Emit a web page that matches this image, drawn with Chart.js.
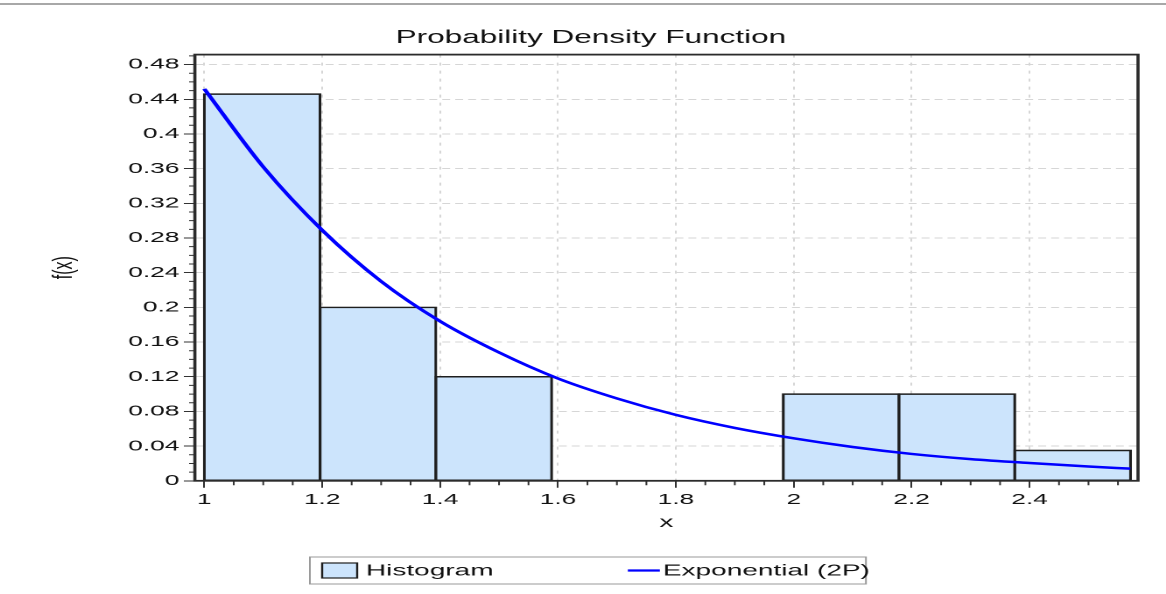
<!DOCTYPE html>
<html>
<head>
<meta charset="utf-8">
<title>Probability Density Function</title>
<script src="https://cdn.jsdelivr.net/npm/chart.js@4.4.1/dist/chart.umd.min.js"></script>
<style>
  html, body { margin: 0; padding: 0; background: #fff; overflow: hidden; }
</style>
</head>
<body>
<!-- the source picture is stretched sideways, so the canvas is drawn narrow and shown wide -->
<canvas id="pdfchart" width="666" height="594" style="width:1166px;height:594px"></canvas>
<script>
'use strict';

// histogram bins: edges along x and the density of each bin
var binEdges = [1.0, 1.1964, 1.3929, 1.5893, 1.7857, 1.9821, 2.1786, 2.375, 2.5714];
var binHeights = [0.446, 0.2, 0.12, 0, 0, 0.1, 0.1, 0.035];

// exponential (2P) curve at these x values
var curveX = [1.0, 1.1, 1.2, 1.3, 1.4, 1.5, 1.6, 1.7, 1.8, 1.9, 2.0, 2.1, 2.2, 2.3, 2.4, 2.5, 2.571];
var curveY = [0.452, 0.362, 0.289, 0.230, 0.184, 0.148, 0.118, 0.095, 0.076, 0.061, 0.049, 0.039, 0.031, 0.025, 0.0205, 0.0165, 0.014];

// tick labels
var xTicks = [1, 1.2, 1.4, 1.6, 1.8, 2, 2.2, 2.4];
var yTicks = [0, 0.04, 0.08, 0.12, 0.16, 0.2, 0.24, 0.28, 0.32, 0.36, 0.4, 0.44, 0.48];

var seriesNames = ['Histogram', 'Exponential (2P)'];

// build the point lists chart.js wants
var histPoints = [];
for (var i = 0; i < binHeights.length; i++) {
  histPoints.push({ x: (binEdges[i] + binEdges[i + 1]) / 2, y: binHeights[i] });
}
var curvePoints = [];
for (var j = 0; j < curveX.length; j++) {
  curvePoints.push({ x: curveX[j], y: curveY[j] });
}

var fontFamily = "'Liberation Sans', Arial, sans-serif";
var textColor = '#111111';
Chart.defaults.font.family = fontFamily;
Chart.defaults.color = textColor;

// frame round the plot, the small minor ticks, the boxed legend
var chartExtras = {
  id: 'chartExtras',
  beforeDraw: function(chart) {
    var ctx = chart.ctx;
    ctx.save();
    ctx.fillStyle = '#ffffff';
    ctx.fillRect(0, 0, chart.width, chart.height);
    ctx.fillStyle = '#a8a8a8';
    ctx.fillRect(0, 3, chart.width, 2);
    ctx.restore();
  },
  afterDatasetsDraw: function(chart) {
    var ctx = chart.ctx;
    var area = chart.chartArea;
    var xs = chart.scales.x;
    var ys = chart.scales.y;
    ctx.save();
    ctx.strokeStyle = '#333333';
    ctx.lineWidth = 1;
    ctx.beginPath();
    // minor ticks on y every 0.01
    for (var k = 1; k * 0.01 < ys.max; k++) {
      if (k % 4 === 0) continue;
      var py = ys.getPixelForValue(k * 0.01);
      ctx.moveTo(area.left - 3.3, py);
      ctx.lineTo(area.left, py);
    }
    ctx.stroke();
    ctx.beginPath();
    // minor ticks on x every 0.05
    for (var m = 1; 1 + m * 0.05 < xs.max; m++) {
      if (m % 4 === 0) continue;
      var px = xs.getPixelForValue(1 + m * 0.05);
      ctx.moveTo(px, area.bottom);
      ctx.lineTo(px, area.bottom + 4.5);
    }
    ctx.stroke();
    // plot frame
    ctx.strokeStyle = '#2b2b2b';
    ctx.lineWidth = 1.8;
    ctx.strokeRect(area.left, area.top, area.right - area.left, area.bottom - area.top);
    ctx.restore();
  },
  afterDraw: function(chart) {
    var ctx = chart.ctx;
    var sets = chart.data.datasets;
    var bx = chart.width / 2 - 156;
    var by = 557;
    ctx.save();
    ctx.strokeStyle = '#9a9a9a';
    ctx.lineWidth = 1;
    ctx.strokeRect(bx, by, 317.6, 27);
    // histogram swatch
    ctx.fillStyle = sets[0].backgroundColor;
    ctx.fillRect(bx + 7, by + 6, 20, 15);
    ctx.strokeStyle = '#1e1e1e';
    ctx.lineWidth = 1.2;
    ctx.strokeRect(bx + 7, by + 6, 20, 15);
    ctx.fillStyle = textColor;
    ctx.font = '16px ' + fontFamily;
    ctx.textBaseline = 'middle';
    ctx.fillText(sets[0].label, bx + 32, by + 14);
    // curve swatch
    ctx.strokeStyle = sets[1].borderColor;
    ctx.lineWidth = 2.2;
    ctx.beginPath();
    ctx.moveTo(bx + 181.6, by + 13.5);
    ctx.lineTo(bx + 199.9, by + 13.5);
    ctx.stroke();
    ctx.fillText(sets[1].label, bx + 201.6, by + 14);
    ctx.restore();
  }
};

var ctx = document.getElementById('pdfchart').getContext('2d');
var chart = new Chart(ctx, {
  type: 'bar',
  data: {
    datasets: [{
      type: 'bar',
      label: seriesNames[0],
      data: histPoints,
      backgroundColor: '#cce4fc',
      borderColor: '#1e1e1e',
      borderWidth: 1.6,
      borderSkipped: false,
      inflateAmount: 0.8,
      barPercentage: 1,
      categoryPercentage: 1,
      order: 1
    }, {
      type: 'line',
      label: seriesNames[1],
      data: curvePoints,
      borderColor: '#0000ff',
      borderWidth: 2.5,
      pointRadius: 0,
      fill: false,
      cubicInterpolationMode: 'monotone',
      order: 0
    }]
  },
  options: {
    responsive: false,
    devicePixelRatio: 2,
    animation: false,
    layout: { padding: { left: 25, right: 16, top: 0, bottom: 62 } },
    plugins: {
      legend: { display: false },
      tooltip: { enabled: false },
      title: {
        display: true,
        text: 'Probability Density Function',
        color: textColor,
        font: { size: 18, weight: 'normal' },
        padding: { top: 27, bottom: 6 }
      }
    },
    scales: {
      x: {
        type: 'linear',
        min: 0.984,
        max: 2.584,
        offset: false,
        afterBuildTicks: function(axis) {
          axis.ticks = xTicks.map(function(v) { return { value: v }; });
        },
        ticks: {
          autoSkip: false,
          maxRotation: 0,
          padding: 3,
          color: textColor,
          font: { size: 15 },
          callback: function(value) { return String(value); }
        },
        grid: {
          offset: false,
          color: '#d6d6d6',
          lineWidth: 1,
          tickLength: 7,
          tickColor: '#333333'
        },
        border: { display: true, color: '#2b2b2b', width: 1.5, dash: [3, 5] },
        title: {
          display: true,
          text: 'x',
          color: textColor,
          font: { size: 16 },
          padding: { top: 1, bottom: 0 }
        }
      },
      y: {
        min: 0,
        max: 0.4915,
        afterBuildTicks: function(axis) {
          axis.ticks = yTicks.map(function(v) { return { value: v }; });
        },
        ticks: {
          autoSkip: false,
          padding: 2.5,
          color: textColor,
          font: { size: 15 },
          callback: function(value) { return String(+value.toFixed(2)); }
        },
        grid: {
          color: '#d6d6d6',
          lineWidth: 1,
          tickLength: 6.3,
          tickColor: '#333333'
        },
        border: { display: true, color: '#2b2b2b', width: 1.5, dash: [4.5, 2.9] },
        title: {
          display: true,
          text: 'f(x)',
          color: textColor,
          font: { size: 16 },
          padding: { top: 2, bottom: 24.6 }
        }
      }
    }
  },
  plugins: [chartExtras]
});
</script>
</body>
</html>
